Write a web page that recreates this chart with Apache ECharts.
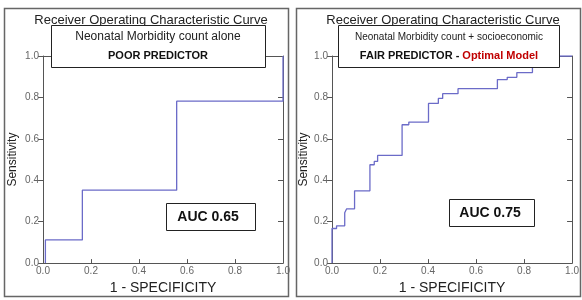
<!DOCTYPE html>
<html>
<head>
<meta charset="utf-8">
<script src="https://cdn.jsdelivr.net/npm/echarts@6/dist/echarts.min.js"></script>
<style>
  html, body { margin: 0; padding: 0; background: #fff; }
  #roc { width: 582px; height: 300px; }
</style>
</head>
<body>
<div id="roc"></div>
<script type="text/javascript">
    // left panel: neonatal morbidity count alone (step corners)
    var aloneFpr = [0.01, 0.01, 0.164, 0.164, 0.557, 0.557, 1.0, 1.0];
    var aloneTpr = [0.0, 0.112, 0.112, 0.352, 0.352, 0.782, 0.782, 1.0];

    // right panel: count + socioeconomic (step corners)
    var socioFpr = [0, 0, 0.019, 0.019, 0.053, 0.053, 0.061, 0.061, 0.094, 0.094, 0.158, 0.158,
        0.176, 0.176, 0.19, 0.19, 0.292, 0.292, 0.32, 0.32, 0.402, 0.402, 0.443, 0.443,
        0.461, 0.461, 0.525, 0.525, 0.689, 0.689, 0.73, 0.73, 0.77, 0.77, 0.835, 0.835, 1.0];
    var socioTpr = [0, 0.167, 0.167, 0.18, 0.18, 0.243, 0.243, 0.262, 0.262, 0.349, 0.349, 0.475,
        0.475, 0.491, 0.491, 0.52, 0.52, 0.668, 0.668, 0.681, 0.681, 0.771, 0.771, 0.795,
        0.795, 0.818, 0.818, 0.842, 0.842, 0.886, 0.886, 0.897, 0.897, 0.92, 0.92, 1.0, 1.0];

    var titleText = 'Receiver Operating Characteristic Curve';
    var aucLabels = ['AUC 0.65', 'AUC 0.75'];

    function pairs(xs, ys) {
        var out = [];
        for (var i = 0; i < xs.length; i++) {
            out.push([xs[i], ys[i]]);
        }
        return out;
    }

    var axisColor = '#555';
    var labelColor = '#666';
    var lineColor = '#6b6bc8';
    var font = '"Liberation Sans", Arial, sans-serif';

    function xAxisMain(idx) {
        return {
            type: 'value', gridIndex: idx, min: 0, max: 1, interval: 0.2,
            name: '1 - SPECIFICITY', nameLocation: 'middle', nameGap: 12,
            nameTextStyle: { fontSize: 14, color: '#222', fontFamily: font },
            axisLine: { onZero: false, lineStyle: { color: axisColor, width: 1 } },
            axisTick: { inside: true, length: 4, lineStyle: { color: axisColor } },
            axisLabel: { fontSize: 10, color: labelColor, fontFamily: font, margin: 3,
                formatter: function (v) { return v.toFixed(1); } },
            splitLine: { show: false }
        };
    }
    function xAxisTop(idx) {
        return {
            type: 'value', gridIndex: idx, min: 0, max: 1, position: 'top',
            axisLine: { show: true, onZero: false, lineStyle: { color: axisColor, width: 1 } },
            axisTick: { show: false }, axisLabel: { show: false }, splitLine: { show: false }
        };
    }
    function yAxisMain(idx, gap) {
        return {
            type: 'value', gridIndex: idx, min: 0, max: 1, interval: 0.2,
            name: 'Sensitivity', nameLocation: 'middle', nameGap: gap, nameRotate: 90,
            nameTextStyle: { fontSize: 12, color: '#222', fontFamily: font },
            axisLine: { show: true, onZero: false, lineStyle: { color: axisColor, width: 1 } },
            axisTick: { show: true, inside: false, length: 5, lineStyle: { color: axisColor } },
            axisLabel: { fontSize: 10, color: labelColor, fontFamily: font, margin: 4,
                formatter: function (v) { return v.toFixed(1); } },
            splitLine: { show: false }
        };
    }
    function yAxisRight(idx) {
        return {
            type: 'value', gridIndex: idx, min: 0, max: 1, interval: 0.2, position: 'right',
            axisLine: { show: true, onZero: false, lineStyle: { color: axisColor, width: 1 } },
            axisTick: { show: true, inside: true, length: 5, lineStyle: { color: axisColor } },
            axisLabel: { show: false }, splitLine: { show: false }
        };
    }

    var rocChart = echarts.init(document.getElementById('roc'));

    var rocOption = {
        backgroundColor: '#fff',
        animation: false,
        title: [
            { text: titleText, left: 146, top: 9, textAlign: 'center',
              textStyle: { fontSize: 13, fontWeight: 'normal', color: '#222', fontFamily: font } },
            { text: titleText, left: 438, top: 9, textAlign: 'center',
              textStyle: { fontSize: 13, fontWeight: 'normal', color: '#222', fontFamily: font } }
        ],
        grid: [
            { left: 43, right: 299, top: 56, bottom: 32 },
            { left: 332, right: 6, top: 56, bottom: 33 }
        ],
        xAxis: [xAxisMain(0), xAxisTop(0), xAxisMain(1), xAxisTop(1)],
        yAxis: [yAxisMain(0, 24), yAxisRight(0), yAxisMain(1, 22), yAxisRight(1)],
        series: [
            { type: 'line', xAxisIndex: 0, yAxisIndex: 0, data: pairs(aloneFpr, aloneTpr),
              showSymbol: false, lineStyle: { color: lineColor, width: 1.3 }, z: 3 },
            { type: 'line', xAxisIndex: 2, yAxisIndex: 2, data: pairs(socioFpr, socioTpr),
              showSymbol: false, lineStyle: { color: lineColor, width: 1.3 }, z: 3 }
        ],
        graphic: [
            // panel frames
            { type: 'rect', shape: { x: 4.5, y: 8.5, width: 284, height: 288 },
              style: { fill: null, stroke: '#666', lineWidth: 1.5 }, z: 1 },
            { type: 'rect', shape: { x: 296.5, y: 8.5, width: 284, height: 288 },
              style: { fill: null, stroke: '#666', lineWidth: 1.5 }, z: 1 },
            // description boxes
            { type: 'rect', shape: { x: 51.5, y: 25.5, width: 214, height: 42 },
              style: { fill: '#fff', stroke: '#222', lineWidth: 1 }, z: 10 },
            { type: 'text', x: 158, y: 37, z: 11,
              style: { text: 'Neonatal Morbidity count alone', align: 'center', verticalAlign: 'middle',
                       fontSize: 12, fill: '#222', fontFamily: font } },
            { type: 'text', x: 158, y: 56, z: 11,
              style: { text: 'POOR PREDICTOR', align: 'center', verticalAlign: 'middle',
                       fontSize: 11, fontWeight: 'bold', fill: '#111', fontFamily: font } },
            { type: 'rect', shape: { x: 338.5, y: 25.5, width: 221, height: 42 },
              style: { fill: '#fff', stroke: '#222', lineWidth: 1 }, z: 10 },
            { type: 'text', x: 449, y: 37, z: 11,
              style: { text: 'Neonatal Morbidity count + socioeconomic', align: 'center', verticalAlign: 'middle',
                       fontSize: 10, fill: '#222', fontFamily: font } },
            { type: 'text', x: 449, y: 56, z: 11,
              style: { text: '{k|FAIR PREDICTOR - }{r|Optimal Model}', align: 'center', verticalAlign: 'middle',
                       fontFamily: font,
                       rich: {
                           k: { fontSize: 11, fontWeight: 'bold', fill: '#111', fontFamily: font },
                           r: { fontSize: 11, fontWeight: 'bold', fill: '#c00000', fontFamily: font }
                       } } },
            // AUC boxes
            { type: 'rect', shape: { x: 166.5, y: 203.5, width: 89, height: 27 },
              style: { fill: '#fff', stroke: '#222', lineWidth: 1 }, z: 10 },
            { type: 'text', x: 208, y: 217, z: 11,
              style: { text: aucLabels[0], align: 'center', verticalAlign: 'middle',
                       fontSize: 14, fontWeight: 'bold', fill: '#111', fontFamily: font } },
            { type: 'rect', shape: { x: 449.5, y: 199.5, width: 85, height: 27 },
              style: { fill: '#fff', stroke: '#222', lineWidth: 1 }, z: 10 },
            { type: 'text', x: 490, y: 213, z: 11,
              style: { text: aucLabels[1], align: 'center', verticalAlign: 'middle',
                       fontSize: 14, fontWeight: 'bold', fill: '#111', fontFamily: font } }
        ]
    };
    rocChart.setOption(rocOption);
</script>
</body>
</html>
